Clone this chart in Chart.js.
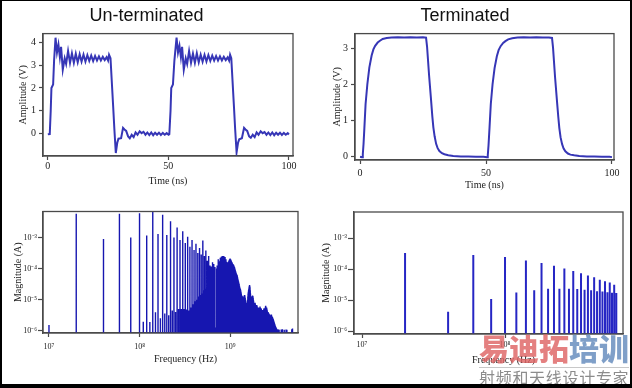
<!DOCTYPE html>
<html>
<head>
<meta charset="utf-8">
<script src="https://cdn.jsdelivr.net/npm/chart.js@4.4.1/dist/chart.umd.min.js"></script>
<style>
  body { margin: 0; background: #fff; }
  #page { position: relative; width: 632px; height: 388px; background: #fff; overflow: hidden; }
  .panel { position: absolute; }
  .panel canvas { display: block; }
  .frame { position: absolute; left: 0; top: 0; width: 632px; height: 388px; box-sizing: border-box;
           border: solid #000; border-width: 1px 2px 4px 2px; pointer-events: none; z-index: 5; }
  .wm-big { position: absolute; left: 479px; top: 332px; font: 900 30px/30px "Noto Sans CJK SC", sans-serif;
            white-space: nowrap; z-index: 4; }
  .wm-rule { position: absolute; left: 479px; top: 367px; width: 150px; height: 1px; background: #c8c8c8; z-index: 4; }
  .wm-small { position: absolute; left: 479px; top: 368px; font: 400 16px/18px "Noto Sans CJK SC", sans-serif;
              letter-spacing: 0.7px; color: #8c8c8c; white-space: nowrap; z-index: 4; }
</style>
</head>
<body>
<div id="page">
  <div class="panel" style="left:0;top:0"><canvas id="timeUnterm" width="316" height="195"></canvas></div>
  <div class="panel" style="left:316px;top:0"><canvas id="timeTerm" width="316" height="195"></canvas></div>
  <div class="panel" style="left:0;top:195px"><canvas id="specUnterm" width="316" height="193"></canvas></div>
  <div class="panel" style="left:316px;top:195px"><canvas id="specTerm" width="316" height="193"></canvas></div>
  <div class="wm-big"><span style="color:rgba(222,100,100,0.82)">易迪拓</span><span style="color:rgba(105,142,190,0.85)">培训</span></div>
  <div class="wm-rule"></div>
  <div class="wm-small">射频和天线设计专家</div>
  <div class="frame"></div>
</div>
<script>
// ---- time domain, un-terminated (ns, V)
const untermTimeNs = [
  0, 0.8, 1.2, 1.5, 2.2, 2.6, 3.2, 3.8, 4.4, 5.0, 5.5, 6.2, 7.0, 7.6, 8.4, 9.2, 10.0, 10.8, 11.6, 12.4,
  13.2, 14.0, 14.8, 15.6, 16.4, 17.2, 18.0, 18.8, 19.6, 20.4, 21.2, 22.0, 22.8, 23.6, 24.4, 25.0, 25.4, 26.0,
  27.1, 27.6, 28.2, 28.8, 29.3, 30.4, 31.2, 31.8, 32.5, 33.3, 34.0, 34.8, 35.6, 36.4, 37.2, 38.1, 38.9, 39.7,
  40.5, 41.3, 42.1, 42.9, 43.7, 44.5, 45.3, 46.1, 46.9, 47.7, 48.5, 49.3, 50.1,
  50.4, 50.9, 51.2, 51.9, 52.5, 53.4, 54.0, 54.6, 55.2, 55.7, 56.4, 57.2, 57.8, 58.6, 59.4, 60.2, 61.0, 61.8,
  62.6, 63.4, 64.2, 65.0, 65.8, 66.6, 67.4, 68.2, 69.0, 69.8, 70.6, 71.4, 72.2, 73.0, 73.8, 74.6, 75.2, 75.6,
  76.1, 77.2, 77.7, 78.3, 78.9, 79.4, 80.5, 81.4, 82.0, 82.7, 83.5, 84.2, 85.0, 85.8, 86.6, 87.4, 88.3, 89.1,
  89.9, 90.7, 91.5, 92.3, 93.1, 93.9, 94.7, 95.5, 96.3, 97.1, 97.9, 98.7, 99.5, 100
];
const untermVolts = [
  -0.03, -0.02, 1.0, 2.0, 2.15, 3.2, 4.2, 3.55, 3.9, 3.35, 3.8, 2.8, 3.3, 3.05, 3.62, 3.1, 3.52, 3.1, 3.5, 3.12,
  3.48, 3.15, 3.46, 3.15, 3.44, 3.18, 3.42, 3.18, 3.4, 3.2, 3.38, 3.2, 3.36, 3.22, 3.35, 3.2, 3.45, 3.3,
  1.2, 0.2, -0.85, -0.4, -0.22, -0.2, 0.25, 0.18, 0.12, -0.12, -0.2, -0.05, -0.15, 0.05, -0.05, 0.1, 0.02, 0.08,
  -0.05, 0.05, -0.06, 0.05, -0.07, 0.04, -0.05, 0.04, -0.06, 0.03, -0.05, 0.02, -0.05,
  -0.03, 1.0, 2.0, 2.15, 3.2, 4.2, 3.55, 3.85, 3.35, 3.8, 2.8, 3.3, 3.05, 3.62, 3.1, 3.5, 3.1, 3.52,
  3.12, 3.46, 3.15, 3.45, 3.16, 3.44, 3.18, 3.42, 3.2, 3.4, 3.2, 3.38, 3.2, 3.36, 3.22, 3.34, 3.2, 3.45,
  3.3, 1.2, 0.2, -0.82, -0.4, -0.25, -0.2, 0.25, 0.18, 0.12, -0.12, -0.18, -0.05, -0.15, 0.05, -0.05, 0.1, 0.02,
  0.07, -0.05, 0.05, -0.06, 0.05, -0.07, 0.04, -0.05, 0.04, -0.06, 0.03, -0.05, 0.02, -0.04
];

// ---- time domain, terminated (ns, V)
const termTimeNs = [
  0, 0.8, 1.1, 1.4, 1.7, 2.2, 2.9, 3.7, 4.6, 5.3, 6.0, 7.0, 7.9, 9.0, 10.6, 12.5, 15, 17.5, 20, 22.5, 25, 26.2,
  26.6, 27.4, 28.2, 28.7, 29.1, 29.6, 30.2, 30.8, 31.5, 32.5, 33.5, 35, 37, 40, 43, 46, 49, 50.4,
  50.7, 51.0, 51.4, 51.9, 52.6, 53.4, 54.3, 55.0, 55.8, 56.8, 57.7, 58.8, 60.4, 62.5, 65, 67.5, 70, 72.5, 75, 76.2,
  76.6, 77.4, 78.2, 78.7, 79.1, 79.6, 80.2, 80.8, 81.5, 82.5, 83.5, 85, 87, 90, 93, 96, 99, 100
];
const termVolts = [
  -0.02, -0.03, 0.05, 0.35, 0.75, 1.45, 2.0, 2.47, 2.8, 2.97, 3.07, 3.16, 3.21, 3.26, 3.29, 3.3, 3.31, 3.3, 3.31, 3.3, 3.31, 3.3,
  3.05, 2.25, 1.55, 1.1, 0.8, 0.55, 0.34, 0.22, 0.14, 0.08, 0.05, 0.02, 0.0, -0.01, -0.01, -0.02, -0.02, -0.03,
  0.02, 0.3, 0.8, 1.45, 2.0, 2.45, 2.78, 2.95, 3.06, 3.15, 3.2, 3.25, 3.28, 3.3, 3.31, 3.3, 3.31, 3.3, 3.3, 3.29,
  3.02, 2.2, 1.5, 1.08, 0.78, 0.52, 0.33, 0.21, 0.13, 0.07, 0.04, 0.02, 0.0, -0.01, -0.01, -0.02, -0.02, -0.03
];

const timeTicks = [0, 50, 100];
const untermAmpTicks = [0, 1, 2, 3, 4];
const termAmpTicks = [0, 1, 2, 3];

// ---- spectra
const freqTicksHz = [1e7, 1e8, 1e9];
const freqTickLabels = ['10⁷', '10⁸', '10⁹'];
const magTicksA = [1e-6, 1e-5, 1e-4, 1e-3];
const magTickLabels = ['10⁻⁶', '10⁻⁵', '10⁻⁴', '10⁻³'];

// un-terminated: one bin every 10 MHz, log10 of magnitude (A); null = below the axis
const untermBinStepHz = 10e6;
const untermLogMag = [
  -5.82, -2.24, null, -3.05, null, -2.24, null, -3.00, null, -2.22,
  -5.71, -2.94, -5.72, -2.18, -5.41, -2.89, -5.60, -2.27, -5.45, -2.92,
  -5.50, -2.48, -5.35, -3.00, -5.40, -2.68, -5.30, -3.08, -5.30, -2.80,
  -5.30, -3.18, -5.32, -2.98, -5.35, -3.30, -5.25, -3.08, -5.15, -3.40,
  -5.05, -3.20, -5.00, -3.50, -4.90, -3.34, -4.85, -3.55, -4.80, -3.10,
  -4.70, -3.60, -4.65, -3.42, -4.60, -3.75, -4.55, -3.60, -4.50, -3.90,
  -4.45, -3.93, -4.38, -3.80, -4.30, -3.85, -4.22, -3.95, -5.90, -5.90,
  -4.00, -3.90, -3.95, -3.70, -3.85, -3.80, -3.75, -3.65, -3.70, -3.62,
  -3.65, -3.60, -3.62, -3.65, -3.60, -3.62, -3.68, -3.63, -3.70, -3.70,
  -3.78, -3.80, -3.83, -3.82, -3.80, -3.78, -3.75, -3.72, -3.70, -3.68,
  -3.70, -3.72, -3.75, -3.78, -3.80, -3.83, -3.85, -3.86, -3.88, -3.90,
  -3.93, -3.96, -4.00, -4.04, -4.08, -4.12, -4.15, -4.18, -4.20, -4.22,
  -4.28, -4.33, -4.38, -4.42, -4.46, -4.50, -4.55, -4.60, -4.63, -4.66,
  -4.70, -4.75, -4.80, -4.85, -4.90, -4.88, -4.92, -4.95, -5.00, -4.98,
  -4.95, -4.90, -4.87, -4.88, -4.85, -4.90, -4.95, -5.00, -5.05, -5.10,
  -5.12, -5.15, -5.17, -5.15, -5.10, -5.00, -4.90, -4.80, -4.75, -4.70,
  -4.65, -4.60, -4.56, -4.53, -4.55, -4.60, -4.70, -4.80, -4.90, -4.95,
  -5.00, -5.05, -5.00, -4.95, -4.90, -4.88, -4.87, -4.88, -4.90, -4.95,
  -5.00, -5.05, -5.10, -5.12, -5.15, -5.17, -5.15, -5.12, -5.10, -5.15,
  -5.20, -5.22, -5.18, -5.20, -5.25, -5.20, -5.17, -5.20, -5.22, -5.25,
  -5.25, -5.28, -5.30, -5.27, -5.25, -5.30, -5.32, -5.28, -5.30, -5.33,
  -5.30, -5.28, -5.25, -5.22, -5.25, -5.30, -5.33, -5.35, -5.30, -5.28,
  -5.30, -5.33, -5.35, -5.38, -5.40, -5.38, -5.35, -5.33, -5.36, -5.40,
  -5.42, -5.40, -5.38, -5.35, -5.33, -5.30, -5.28, -5.30, -5.33, -5.35,
  -5.35, -5.32, -5.30, -5.28, -5.25, -5.22, -5.20, -5.22, -5.25, -5.28,
  -5.30, -5.28, -5.25, -5.28, -5.30, -5.33, -5.35, -5.38, -5.40, -5.42,
  -5.45, -5.43, -5.40, -5.42, -5.45, -5.48, -5.50, -5.48, -5.45, -5.47,
  -5.50, -5.52, -5.50, -5.48, -5.50, -5.53, -5.55, -5.52, -5.50, -5.53,
  -5.55, -5.58, -5.55, -5.53, -5.50, -5.48, -5.50, -5.53, -5.55, -5.57,
  -5.60, -5.58, -5.55, -5.57, -5.60, -5.62, -5.60, -5.62, -5.65, -5.63,
  -5.65, -5.68, -5.70, -5.68, -5.72, -5.75, -5.73, -5.75, -5.78, -5.80,
  -5.78, -5.80, -5.83, -5.85, -5.83, -5.86, -5.88, -5.90, -5.87, -5.90,
  -5.92, -5.90, -5.93, -5.95, -5.92, -5.95, -5.97, -5.95, -5.98, -6.00,
  null, -5.97, null, null, -5.95, null, null, null, -5.98, null,
  null, null, -5.96, null, null, null, null, -5.97, null, null,
  null, null, null, null, null, null, null, null, null, null,
  null, null, null, null, null, null, -5.96, null, null, null,
  null, null, null, null, null, null, null, -5.95, null, null,
  null, null, null, null, null, null, null, null, null, null,
  null, null, null, null, null, -5.97, null, null, null, null,
  null, null, null, null, null, null, null, null, null, null,
  null, null, null, null, -5.96, null, null, null, null, null,
  null, null, null, -5.97, null, null, null, null, null, null,
  null, null, null, null, null, null, null, null, null, null,
  null, null, null, null, null, null, null, null, null, null,
  null, null, null, null, null, null, null, null, null, null,
  null, null, null, null, null, null, null, null, null, null,
  null, null, null, null, null, null, null, null, null, -5.95,
  null, null, null, null, null, null, null, null, -5.93, null
];

// terminated: harmonics of the 20 MHz clock
const termHarmonicsMHz = [20, 40, 60, 80, 100, 120, 140, 160, 180, 200, 220, 240, 260, 280, 300,
                          320, 340, 360, 380, 400, 420, 440, 460, 480, 500, 520, 540, 560, 580, 600];
const termLogMag = [-3.48, -5.37, -3.54, -4.96, -3.61, -4.75, -3.72, -4.68, -3.80, -4.63, -3.89, -4.63, -3.98, -4.63, -4.06,
                    -4.64, -4.13, -4.66, -4.20, -4.68, -4.26, -4.71, -4.34, -4.72, -4.39, -4.74, -4.43, -4.76, -4.50, -4.77];

// ---- styling
const SERIF = "'Liberation Serif', 'Times New Roman', serif";
const SANS = "'Liberation Sans', Arial, sans-serif";
const INK = '#222';
const AXIS = '#4a4a4a';
const TRACE = '#3636b6';

const boxPlugin = {
  id: 'box',
  afterDraw(chart) {
    const { ctx, chartArea: a } = chart;
    ctx.save();
    ctx.strokeStyle = AXIS;
    ctx.lineWidth = 1.3;
    ctx.strokeRect(a.left, a.top, a.right - a.left, a.bottom - a.top);
    ctx.restore();
  }
};

function axis(o) {
  return {
    type: o.type || 'linear',
    position: o.position,
    min: o.min,
    max: o.max,
    afterFit: s => { if (o.position === 'left') s.width = o.size; else s.height = o.size; },
    afterBuildTicks: s => { s.ticks = o.ticks.map(v => ({ value: v })); },
    grid: { drawOnChartArea: false, drawTicks: true, tickLength: o.tickLength, color: AXIS, tickWidth: 1.2 },
    border: { display: true, color: AXIS, width: 1.3 },
    ticks: {
      color: INK, autoSkip: false, maxRotation: 0, padding: o.tickPad,
      font: { family: SERIF, size: o.tickSize },
      callback: (v, i) => (o.labels ? o.labels[i] : String(v))
    },
    title: {
      display: true, text: o.title, color: INK,
      font: { family: SERIF, size: 10 }, padding: o.titlePad
    }
  };
}

function stems(freqs, logMags, base) {
  const pts = [];
  freqs.forEach((f, i) => {
    if (logMags[i] == null) return;
    pts.push({ x: f, y: base }, { x: f, y: 10 ** logMags[i] }, { x: f, y: null });
  });
  return pts;
}

function common(padding, title) {
  return {
    responsive: false, animation: false, devicePixelRatio: 1,
    layout: { padding },
    plugins: {
      legend: { display: false }, tooltip: { enabled: false },
      title: title ? {
        display: true, text: title, color: '#111',
        font: { family: SANS, size: 18, weight: 'normal' }, padding: { top: 5, bottom: 7 }
      } : { display: false }
    }
  };
}

// ---- top left
new Chart(document.getElementById('timeUnterm'), {
  type: 'line',
  data: { datasets: [{
    data: untermTimeNs.map((t, i) => ({ x: t, y: untermVolts[i] })),
    borderColor: TRACE, borderWidth: 2, pointRadius: 0, tension: 0
  }] },
  options: Object.assign(common({ left: 0, right: 23, top: 0, bottom: 0 }, 'Un-terminated'), {
    scales: {
      x: axis({ position: 'bottom', min: -2, max: 101.7, size: 39, ticks: timeTicks, tickLength: 4, tickPad: 0,
                tickSize: 10, title: 'Time (ns)', titlePad: { top: 0, bottom: 8 } }),
      y: axis({ position: 'left', min: -0.98, max: 4.38, size: 43, ticks: untermAmpTicks, tickLength: 4, tickPad: 3,
                tickSize: 10, title: 'Amplitude (V)', titlePad: { top: 17, bottom: 0 } })
    }
  }),
  plugins: [boxPlugin]
});

// ---- top right
new Chart(document.getElementById('timeTerm'), {
  type: 'line',
  data: { datasets: [{
    data: termTimeNs.map((t, i) => ({ x: t, y: termVolts[i] })),
    borderColor: TRACE, borderWidth: 2, pointRadius: 0, tension: 0
  }] },
  options: Object.assign(common({ left: 0, right: 18, top: 0, bottom: 0 }, 'Terminated'), {
    scales: {
      x: axis({ position: 'bottom', min: -2, max: 100.8, size: 35, ticks: timeTicks, tickLength: 4, tickPad: 3,
                tickSize: 10, title: 'Time (ns)', titlePad: { top: 0, bottom: 4 } }),
      y: axis({ position: 'left', min: -0.11, max: 3.41, size: 39, ticks: termAmpTicks, tickLength: 4, tickPad: 3,
                tickSize: 10, title: 'Amplitude (V)', titlePad: { top: 15, bottom: 0 } })
    }
  }),
  plugins: [boxPlugin]
});

// ---- bottom left
const untermMagMin = 10 ** -6.074;
const untermFreqHz = untermLogMag.map((_, i) => (i + 1) * untermBinStepHz);
new Chart(document.getElementById('specUnterm'), {
  type: 'line',
  data: { datasets: [{
    data: stems(untermFreqHz, untermLogMag, untermMagMin),
    borderColor: '#1616b0', borderWidth: 1.4, pointRadius: 0, tension: 0, spanGaps: false
  }] },
  options: Object.assign(common({ left: 0, right: 18, top: 16.5, bottom: 0 }), {
    scales: {
      x: axis({ type: 'logarithmic', position: 'bottom', min: 10 ** 6.934, max: 10 ** 9.75, size: 55,
                ticks: freqTicksHz, labels: freqTickLabels, tickLength: 4, tickPad: 5, tickSize: 8,
                title: '\u2003\u2003\u2003Frequency (Hz)', titlePad: { top: 0, bottom: 23 } }),
      y: axis({ type: 'logarithmic', position: 'left', min: untermMagMin, max: 10 ** -2.164, size: 43,
                ticks: magTicksA, labels: magTickLabels, tickLength: 5, tickPad: 1, tickSize: 8,
                title: 'Magnitude (A)', titlePad: { top: 12, bottom: 0 } })
    }
  }),
  plugins: [boxPlugin]
});

// ---- bottom right
const termMagMin = 10 ** -6.09;
new Chart(document.getElementById('specTerm'), {
  type: 'line',
  data: { datasets: [{
    data: stems(termHarmonicsMHz.map(f => f * 1e6), termLogMag, termMagMin),
    borderColor: '#2626c4', borderWidth: 2, pointRadius: 0, tension: 0, spanGaps: false
  }] },
  options: Object.assign(common({ left: 0, right: 9, top: 17, bottom: 0 }), {
    scales: {
      x: axis({ type: 'logarithmic', position: 'bottom', min: 10 ** 6.944, max: 10 ** 8.825, size: 54,
                ticks: freqTicksHz.slice(0, 2), labels: freqTickLabels, tickLength: 4, tickPad: 2, tickSize: 8,
                title: '\u2003\u2003\u2003Frequency (Hz)', titlePad: { top: 0, bottom: 22 } }),
      y: axis({ type: 'logarithmic', position: 'left', min: termMagMin, max: 10 ** -2.155, size: 38,
                ticks: magTicksA, labels: magTickLabels, tickLength: 6, tickPad: 1, tickSize: 8,
                title: 'Magnitude (A)', titlePad: { top: 4, bottom: 0 } })
    }
  }),
  plugins: [boxPlugin]
});
</script>
</body>
</html>
